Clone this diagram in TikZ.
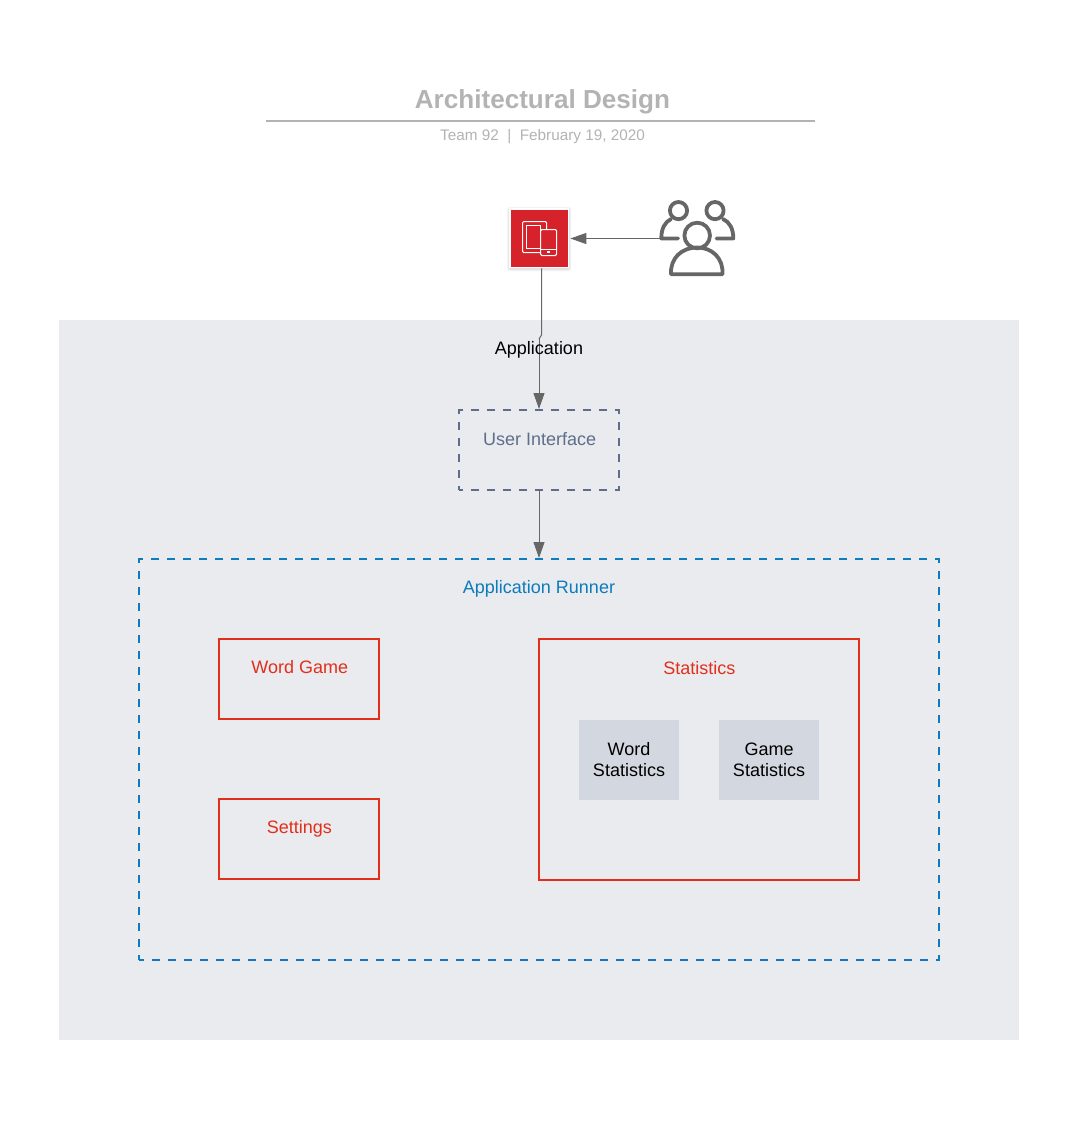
\documentclass[tikz,border=0pt]{standalone}
\usepackage{fontspec}
\setmainfont{Liberation Sans}
\usetikzlibrary{arrows.meta,calc}
\definecolor{bgpanel}{HTML}{E9EBEF}
\definecolor{slatec}{HTML}{5E6E8A}
\definecolor{bluec}{HTML}{0C7CBA}
\definecolor{redc}{HTML}{E22F1B}
\definecolor{innerc}{HTML}{D3D8E0}
\definecolor{greyc}{HTML}{666666}
\definecolor{titlec}{HTML}{B3B3B3}
\definecolor{iconred}{HTML}{D6222B}
\tikzset{
  x=1pt,y=-1pt,
  box/.style={rectangle,inner sep=0pt,outer sep=0pt,anchor=north west},
  panel/.style={box,fill=bgpanel,minimum width=960pt,minimum height=720pt},
  dashslate/.style={box,draw=slatec,line width=2pt,dash pattern=on 8pt off 8pt,dash phase=4pt,minimum width=160pt,minimum height=80pt},
  dashblue/.style={box,draw=bluec,line width=2pt,dash pattern=on 8pt off 8pt,dash phase=3pt,minimum width=800pt,minimum height=401pt},
  redbox/.style={box,draw=redc,line width=2pt,minimum width=160pt,minimum height=80pt},
  innerbox/.style={box,fill=innerc,minimum width=100pt,minimum height=80pt,align=center,font=\fontsize{18}{21}\selectfont},
  lbl/.style={inner sep=0pt,font=\fontsize{18}{21}\selectfont,anchor=center},
  conn/.style={draw=greyc,line width=1pt,shorten >=1pt,-{Triangle[length=16pt,width=11pt,fill=greyc]}},
  iconline/.style={draw=white,line width=1pt,rounded corners=1.2pt},
  userline/.style={draw=greyc,line width=3.8pt,line cap=round,line join=round},
  softshadow/.style={rectangle,inner sep=0pt,outer sep=0pt,fill=black,opacity=.025,rounded corners=2pt},
}
\begin{document}
\begin{tikzpicture}
\useasboundingbox (0,0) rectangle (1085,1122);
\fill[white] (0,0) rectangle (1085,1122);

% title
\node[lbl,text=titlec,font=\fontsize{26.1}{30}\bfseries\selectfont] (title) at (542.5,102) {Architectural Design};
\coordinate (ruleL) at (266,121);
\coordinate (ruleR) at (815,121);
\draw[titlec,line width=2pt] (ruleL) -- (ruleR);
\node[lbl,text=titlec,font=\fontsize{15.3}{18}\selectfont] (subtitle) at (542.5,137) {Team 92\ \ |\ \ February 19, 2020};

% panel
\node[panel] (panel) at (59,320) {};
\node[dashslate] (ui) at (459,410) {};
\node[lbl,text=slatec] (uiT) at (539.7,439.5) {User Interface};
\node[dashblue] (runner) at (139,559) {};
\node[lbl,text=bluec] (runT) at (539,588.5) {Application Runner};
\node[redbox] (wg) at (219,639) {};
\node[lbl,text=redc] (wgT) at (299.8,667) {Word Game};
\node[redbox] (set) at (219,799) {};
\node[lbl,text=redc] (setT) at (299.3,828.5) {Settings};
\node[redbox,minimum width=320pt,minimum height=241pt] (stat) at (539,639) {};
\node[lbl,text=redc] (statT) at (699.3,668) {Statistics};
\node[innerbox] (ws) at (579,720) {Word\\Statistics};
\node[innerbox] (gs) at (719,720) {Game\\Statistics};

% device icon
\foreach \s in {60.5,61.5,62.5,63.5,64.5}
  \node[softshadow,minimum size=\s pt] (shadow\s) at (539.2,239) {};
\node[rectangle,inner sep=0pt,outer sep=.9pt,minimum size=58.5pt,fill=iconred,draw=white,line width=1.8pt] (icon) at (539.2,238.2) {};
\draw[iconline] (522.5,221.5) rectangle (546.5,252.5);
\draw[white,line width=1pt] (526.5,225.5) rectangle (540.5,248.5);
\draw[iconline,fill=iconred] (540.7,229.5) rectangle (556.5,255.5);
\draw[white,line width=.8pt] (540.7,249.5) -- (556.5,249.5);
\fill[white] (546.8,251) rectangle (549.8,253);

% users icon
\coordinate (users) at (660,238.5);
\draw[userline] (678.5,210.6) circle (8.6);
\draw[userline] (715,210.6) circle (8.6);
\draw[userline] (678,238.4) -- (661.3,238.4) .. controls (661.3,228.5) and (665,222) .. (671,219);
\draw[userline] (716.5,238.4) -- (733.3,238.4) .. controls (733.3,228.5) and (729.5,222) .. (723,219);
\draw[userline,fill=white] (697.2,235.5) circle (12.8);
\draw[userline] (671,274.3) .. controls (670,258) and (682,247.5) .. (697,247.5) .. controls (712,247.5) and (723.5,258) .. (722.5,274.3) -- cycle;

% connectors
\coordinate (jogA) at (541.5,335);
\coordinate (jogB) at (539,339);
\draw[conn] (users) -- (users -| icon.east);
\draw[draw=greyc,line width=1pt] (icon.south -| jogA) -- (jogA) -- (jogB);
\draw[conn] (jogB) -- (ui.north -| jogB);
\draw[conn] (ui.south) -- (runner.north -| ui.south);

\node[lbl,text=black] (app) at (539,349.5) {Application};
\end{tikzpicture}
\end{document}
